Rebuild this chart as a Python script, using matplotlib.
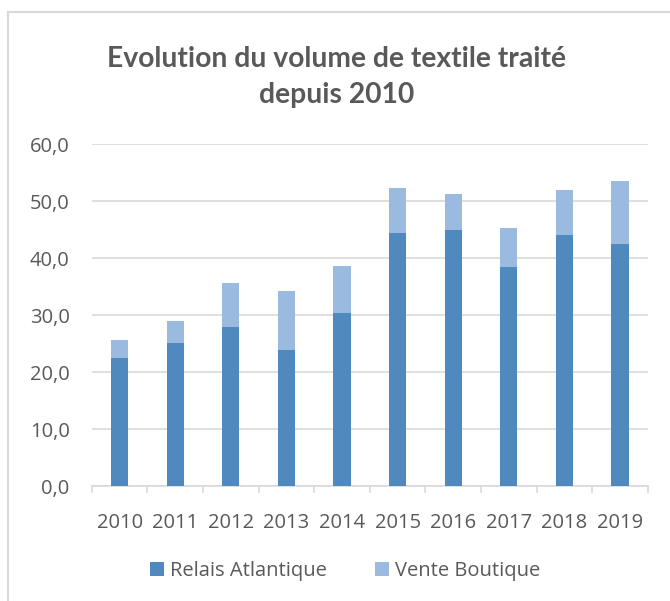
import matplotlib
matplotlib.use("Agg")
import matplotlib.pyplot as plt
from matplotlib.lines import Line2D
import numpy as np

# Chart data
years = ["2010", "2011", "2012", "2013", "2014", "2015", "2016", "2017", "2018", "2019"]
relais = [22.5, 25.2, 27.9, 23.9, 30.4, 44.5, 44.9, 38.4, 44.0, 42.5]
totals = [25.7, 29.0, 35.7, 34.2, 38.7, 52.3, 51.2, 45.3, 51.9, 53.5]
vente = [round(t - r, 1) for t, r in zip(totals, relais)]
y_ticks = [0, 10, 20, 30, 40, 50, 60]

text_color = "#595959"
grid_color = "#d9d9d9"
dark_blue = "#4f89bd"
light_blue = "#9bbae0"

plt.rcParams["font.family"] = ["Open Sans", "DejaVu Sans"]

fig = plt.figure(figsize=(6.7, 6.01), dpi=100)
ax = fig.add_axes([0.137, 0.191, 0.830, 0.569])

x = np.arange(len(years))
ax.bar(x, relais, width=0.31, color=dark_blue, label="Relais Atlantique", zorder=3)
ax.bar(x, vente, width=0.31, bottom=relais, color=light_blue, label="Vente Boutique", zorder=3)

ax.set_xlim(-0.5, len(years) - 0.5)
ax.set_ylim(0, 60)
ax.set_yticks(y_ticks)
ax.set_yticklabels([f"{v:.1f}".replace(".", ",") for v in y_ticks], fontsize=14.5, color=text_color)
ax.set_xticks(x)
ax.set_xticklabels(years, fontsize=14.5, color=text_color)
ax.tick_params(axis="y", length=0, pad=16)
ax.tick_params(axis="x", length=0, pad=19)

# boundary ticks between categories
for b in np.arange(-0.5, len(years), 1.0):
    ax.plot([b, b], [0, -0.018], transform=ax.get_xaxis_transform(), color=grid_color,
            lw=1.2, clip_on=False)

ax.grid(axis="y", color=grid_color, lw=1.2, zorder=0)
for side in ["top", "right", "left"]:
    ax.spines[side].set_visible(False)
ax.spines["bottom"].set_color(grid_color)
ax.spines["bottom"].set_linewidth(1.2)

fig.text(0.502, 0.8715, "Evolution du volume de textile traité\ndepuis 2010", ha="center", va="center",
         fontsize=20.3, fontweight="bold", color=text_color, family=["Lato", "DejaVu Sans"],
         linespacing=1.5)

fig.legend(loc="center", bbox_to_anchor=(0.515, 0.05), ncol=2, frameon=False, fontsize=14.5,
           labelcolor=text_color, handlelength=0.7, handleheight=0.7, handletextpad=0.3,
           columnspacing=2.4)

# chart frame
fig.add_artist(Line2D([0.0125, 0.0125], [0.0, 0.98], transform=fig.transFigure, color=grid_color, lw=1.5))
fig.add_artist(Line2D([0.0125, 1.0], [0.98, 0.98], transform=fig.transFigure, color=grid_color, lw=1.5))

fig.savefig("out.png", dpi=100, facecolor="white")
